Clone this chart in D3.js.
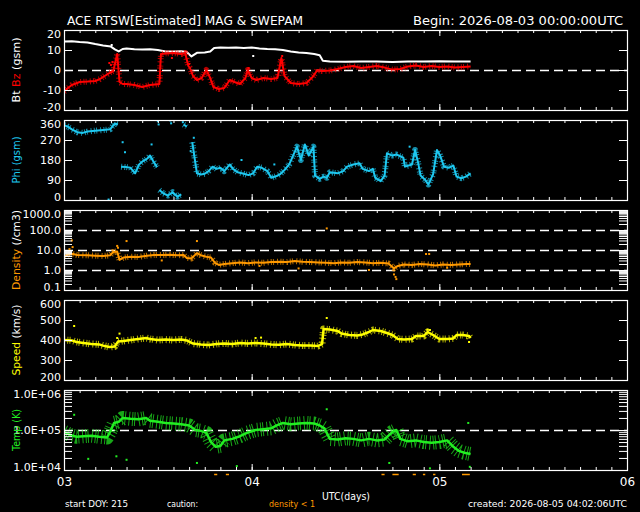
<!DOCTYPE html>
<html>
<head>
<meta charset="utf-8">
<script src="https://cdn.jsdelivr.net/npm/d3@7"></script>
<style>
  body { margin: 0; background: #000; }
  svg text { font-family: "DejaVu Sans", sans-serif; }
</style>
</head>
<body>
<svg id="chart" width="640" height="512"></svg>
<script>

// Values, [hour since 2026-08-03 00:00 UTC, value]
var dayLabels = ["03", "04", "05", "06"];

var btData = [[0,14.2],[1,14.4],[2,14],[3,13.8],[4,13],[5,12.3],[6,11.7],[6.5,10.3],[7,9.3],[7.5,10.5],
  [8,10.8],[9,10.4],[10,10.3],[11,10.4],[12,10],[13,9.3],[14,9.2],[15,9.4],[15.7,9],[16.3,6.8],[17,8.6],
  [18,8.8],[18.7,9.2],[19.2,11],[20,11.3],[21,11.1],[22,11.2],[23,11],[24,11.3],[25,10.7],[26,10.5],
  [27,10.4],[28,10],[29,9.3],[30,8.8],[31,8.5],[32,8],[32.7,7.4],[33.1,4.6],[34,4.3],[36,4.1],[38,4.3],
  [40,4.2],[42,4.0],[44,4.3],[46,4.2],[48,4.4],[50,4.2],[52,4.3]];
var btStray = [[24.2,7],[6.1,12.5]];

var bzData = [[0,-10.8],[0.5,-9],[1,-7.5],[2,-6],[3,-5.8],[4,-5.5],[4.6,-4.5],[5.2,-3],[5.8,-1.5],[6.3,-0.5],
  [6.8,8],[7.1,-6],[7.5,-7],[8,-7],[9,-7.5],[10,-8.5],[11,-7.5],[12.2,-7],[12.4,8],[13,8.3],[14,8.5],
  [15,8],[15.5,8.5],[15.9,2],[16.1,1],[16.5,-3],[17,-5],[17.6,-4],[18.2,0],[18.7,-4],[19.1,-8.5],
  [19.8,-9.5],[20.5,-9],[21.2,-5],[21.8,-6],[22.5,-7],[23.2,-4],[23.5,0],[24,-4],[24.6,-5],[25.5,-4],
  [26.5,-4.5],[27.3,-4],[27.8,6],[28.2,-3],[29,-6.5],[30,-7],[31,-6.5],[31.8,-3.5],[32.4,0],[33,-0.5],
  [34,-0.3],[35,0.5],[36,1.5],[37,2],[38,1],[39,1.5],[40,2],[41,1.2],[42,0.2],[43,0.5],[44,1.8],[45,2.2],
  [46,1.5],[47,2],[48,1.5],[49,1.8],[50,1.2],[51,1.5],[52,1.8]];
var bzStray = [[5.8,3.5],[6.0,2.5],[6.2,4],[13.8,6],[16.0,3],[23.6,1],[27.9,7],[12.3,-4]];

var phiData = [[0,337],[0.5,330],[1,318],[1.7,305],[2.4,302],[3,308],[4,312],[5,315],[5.9,318],[6.5,345],
  [6.9,340],[7.2,null],[7.3,150],[8,148],[8.5,145],[9.1,120],[9.6,160],[10.1,175],[10.6,185],[11,200],
  [11.4,175],[11.9,148],[12,null],[12.2,45],[12.7,30],[13.3,20],[13.9,35],[14.5,15],[15,25],[15.1,null],
  [15.3,340],[15.7,330],[16,null],[16.4,260],[16.7,190],[17,120],[17.5,115],[18,118],[18.5,130],[19,150],
  [19.5,140],[20,145],[20.5,130],[21.2,160],[21.6,140],[22.2,125],[23,118],[23.6,112],[24.2,120],
  [24.7,150],[25.3,145],[26,130],[26.5,100],[27.2,108],[27.6,115],[28.2,135],[28.8,160],[29.3,200],
  [29.8,240],[30.3,180],[30.8,250],[31.3,200],[31.9,240],[32.1,110],[32.7,95],[33.2,105],[33.6,100],
  [34,125],[35,120],[35.7,130],[36.2,150],[37,160],[37.8,165],[38.2,140],[39,130],[39.5,140],[39.8,100],
  [40.5,85],[41,110],[41.3,210],[42,200],[42.5,205],[43.4,190],[43.6,150],[44.5,160],[44.9,225],
  [45.3,165],[45.6,110],[46.2,90],[46.6,70],[47.2,115],[47.7,225],[48.1,200],[48.6,150],[49.2,145],
  [49.8,155],[50.2,105],[50.8,98],[51.4,105],[52,120]];
var phiStray = [[5.7,2],[7.5,260],[7.8,215],[11.2,250],[12,355],[12.1,340],[13.6,358],[13.7,345],
  [15.2,350],[16.2,220],[16.6,280],[22.7,180],[26.9,160],[44.2,240],[45.0,200]];

var densityData = [[0,4.6],[0.5,6],[1,6.5],[1.7,5.6],[3,5.4],[4,5.2],[5,5.0],[5.9,5.4],[6.3,8],[6.8,8.5],
  [7.1,3.2],[7.6,4.2],[8.5,4.6],[9.5,4.5],[10.6,5.2],[11.5,5.6],[12.5,5.6],[13.5,5.8],[14.5,5.5],
  [15.3,5.6],[15.7,4.0],[16.3,3.8],[17,7],[17.5,5.5],[18.2,4.6],[18.8,4.2],[19.3,2.3],[19.8,1.8],
  [20.5,2.0],[21.5,2.2],[22.5,2.4],[23.5,2.2],[24.5,2.4],[25.5,2.3],[26.5,2.5],[27.5,2.6],[28.5,2.5],
  [29.5,2.8],[30.5,2.6],[31.5,2.5],[32.5,2.4],[33.5,2.3],[34.5,2.2],[35.5,2.4],[36.5,2.3],[37.5,2.5],
  [38.5,2.4],[39.5,2.2],[40.5,2.3],[41.5,2.1],[42.2,1.2],[42.7,1.6],[43.5,1.9],[44.5,1.8],[45.5,2.0],
  [46.5,1.9],[47.5,1.7],[48.5,1.9],[49.5,1.8],[50.5,1.9],[51.5,2.0],[52,2.0]];
var densityStray = [[1.0,30],[1.1,14],[0.7,11],[6.8,16],[6.9,13],[8.0,28],[17.0,28],[33.6,120],
  [42.2,0.6],[42.4,0.45],[42.5,0.35],[46.3,6.3],[46.7,6.3],[12.5,3],[25,1.6],[30,1.2],[39,1.0],[49,1.3]];

var speedData = [[0,400],[1,398],[1.6,390],[2.5,385],[3.5,380],[4.5,378],[5,372],[5.8,365],[6.5,368],
  [6.9,392],[7.6,395],[8.5,400],[9.5,405],[10.5,410],[11,405],[12,400],[13,402],[14,400],[15,403],
  [15.7,398],[16.5,382],[17.5,378],[18.5,375],[19.5,380],[20.5,383],[21.5,380],[22.5,385],[23.5,383],
  [24.5,385],[25.5,382],[26.5,378],[27.5,376],[28.5,380],[29.5,375],[30.5,372],[31.5,372],[32.5,370],
  [33,380],[33.2,455],[34,452],[35,445],[35.5,432],[36.5,425],[37.5,423],[38.2,428],[39,440],[39.5,450],
  [40.5,445],[41.3,435],[42,425],[42.7,405],[43.5,403],[44.5,405],[45,420],[46,420],[46.5,440],
  [47.2,425],[48,405],[49,405],[49.8,408],[50.2,425],[51,425],[51.8,420],[52,410]];
var speedStray = [[1.3,470],[7.1,432],[6.8,410],[24.5,410],[25.2,412],[33.6,510],[46.5,452],
  [46.8,450],[51.8,390]];

var tempData = [[0,9.0e4],[0.8,7.5e4],[1.6,6.8e4],[2.5,7.0e4],[3.5,7.2e4],[4.5,6.8e4],[5.5,6.5e4],
  [5.9,9.0e4],[6.4,1.5e5],[7,1.6e5],[7.5,2.0e5],[8.5,1.9e5],[9.5,1.85e5],[10.5,2.0e5],[11,1.7e5],
  [12,1.6e5],[13,1.5e5],[14,1.45e5],[15,1.4e5],[16,1.3e5],[16.8,1.0e5],[17.5,9.5e4],[18.2,8.5e4],
  [18.8,5.0e4],[19.4,3.8e4],[20,4.0e4],[20.5,5.5e4],[21.5,6.0e4],[22.5,7.0e4],[23.4,8.5e4],[24.5,1.0e5],
  [25.5,1.05e5],[26.5,1.1e5],[27.2,1.3e5],[28,1.5e5],[29,1.4e5],[30,1.45e5],[31,1.5e5],[32,1.45e5],
  [32.7,1.3e5],[33.3,1.1e5],[34,6.0e4],[35,5.8e4],[36,6.2e4],[37,6.0e4],[38,5.5e4],[39,6.0e4],
  [40,5.5e4],[41,5.8e4],[42,9.0e4],[42.5,1.0e5],[43,6.0e4],[44,5.2e4],[45,5.5e4],[46,5.0e4],[47,4.8e4],
  [48,5.0e4],[49,5.5e4],[49.8,3.8e4],[50.5,3.0e4],[51.2,2.7e4],[52,2.5e4]];
var tempStray = [[3.1,1.9e4],[6.7,2.2e4],[8.0,1.8e4],[17,1.5e4],[1.3,2.4e5],[22.1,1.25e4],
  [33.6,3.3e5],[51.7,1.5e5],[46.8,1.1e4],[41.6,1.5e4],[51.9,1.2e4]];

// hours when density dropped below 1 (caution marks under the last panel)
var lowDensityHours = [[19.2,19.6],[20.7,21.1],[40.6,41.0],[42.0,42.8],[44.6,45.0],[45.9,46.2],
  [47.2,47.5],[50.9,51.9]];

var bTicks = [-20, -10, 0, 10, 20];
var phiTicks = [0, 90, 180, 270, 360];
var densityTicks = [0.1, 1, 10, 100, 1000];
var densityTickLabels = ["0.1", "1.0", "10.0", "100.0", "1000.0"];
var speedTicks = [200, 300, 400, 500, 600];
var tempTicks = [1e4, 1e5, 1e6];
var tempTickLabels = ["1.0E+04", "1.0E+05", "1.0E+06"];

// ---------------------------------------------------------------------

var svg = d3.select("#chart");
svg.append("rect").attr("width", 640).attr("height", 512).attr("fill", "#000");

var x = d3.scaleLinear().domain([0, 72]).range([64, 627]);
var panelH = 80;

function logMinor(lo, hi) {
    var vals = [];
    for (var k = lo; k < hi; k++) {
        for (var m = 1; m < 10; m++) vals.push(m * Math.pow(10, k));
    }
    vals.push(Math.pow(10, hi));
    return vals;
}

var panels = [
    { top: 30, y: d3.scaleLinear().domain([-20, 20]), ticks: bTicks, minor: null,
      fmt: function(d) { return d; }, dashed: [0],
      title: [["Bt ", "#fff"], ["Bz", "#ff0000"], [" (gsm)", "#fff"]], titleLen: 65,
      series: [
        { data: btData, stray: btStray, color: "#ffffff", core: 2, halo: 0 },
        { data: bzData, stray: bzStray, color: "#ff0000", core: 2, halo: 6 }
      ] },
    { top: 120, y: d3.scaleLinear().domain([0, 360]), ticks: phiTicks, minor: null,
      fmt: function(d) { return d; }, dashed: [],
      title: [["Phi (gsm)", "#1ec8f0"]], titleLen: 47,
      series: [{ data: phiData, stray: phiStray, color: "#1ec8f0", core: 2, halo: 6 }] },
    { top: 210, y: d3.scaleLog().domain([0.1, 1000]), ticks: densityTicks, minor: logMinor(-1, 3),
      fmt: function(d, i) { return densityTickLabels[i]; }, dashed: [1, 10, 100],
      title: [["Density ", "#ff9900"], ["(/cm3)", "#fff"]], titleLen: 80,
      series: [{ data: densityData, stray: densityStray, color: "#ff9900", core: 2, halo: 6 }] },
    { top: 300, y: d3.scaleLinear().domain([200, 600]), ticks: speedTicks, minor: null,
      fmt: function(d) { return d; }, dashed: [],
      title: [["Speed ", "#ffff00"], ["(km/s)", "#fff"]], titleLen: 71,
      series: [{ data: speedData, stray: speedStray, color: "#ffff00", core: 2.5, halo: 7 }] },
    { top: 390, y: d3.scaleLog().domain([1e4, 1e6]), ticks: tempTicks, minor: logMinor(4, 6),
      fmt: function(d, i) { return tempTickLabels[i]; }, dashed: [1e5],
      title: [["Temp (K)", "#22ee22"]], titleLen: 42,
      series: [{ data: tempData, stray: tempStray, color: "#22ee22", core: 2.5, halo: 14 }] }
];

var line = d3.line()
    .defined(function(d) { return d[1] != null; });

panels.forEach(function(p, idx) {
    var y = p.y.range([p.top + panelH, p.top]);
    var dom = y.domain();
    var g = svg.append("g");

    var clipId = "clip" + idx;
    svg.append("clipPath").attr("id", clipId)
        .append("rect").attr("x", 64).attr("y", p.top).attr("width", 563).attr("height", panelH);

    // dashed reference lines
    p.dashed.forEach(function(v) {
        g.append("line")
            .attr("x1", 64).attr("x2", 627)
            .attr("y1", Math.round(y(v)) + 0.5).attr("y2", Math.round(y(v)) + 0.5)
            .attr("stroke", "#fff").attr("stroke-width", 1.3)
            .attr("stroke-dasharray", "9,5");
    });

    // data: stippled band (scattered 1-min samples) plus a solid trace
    var dg = g.append("g").attr("clip-path", "url(#" + clipId + ")");
    line.x(function(d) { return x(d[0]); }).y(function(d) { return y(d[1]); });
    p.series.forEach(function(s) {
        if (s.halo > 0) {
            dg.append("path").attr("d", line(s.data))
                .attr("fill", "none").attr("stroke", s.color)
                .attr("stroke-width", s.halo).attr("stroke-opacity", 0.7)
                .attr("stroke-dasharray", "1,2.3,1,1.2,1,3.1")
                .attr("stroke-linejoin", "round");
        }
        dg.append("path").attr("d", line(s.data))
            .attr("fill", "none").attr("stroke", s.color)
            .attr("stroke-width", s.core).attr("stroke-linejoin", "round");
        dg.selectAll(null).data(s.stray).enter().append("rect")
            .attr("x", function(d) { return x(d[0]) - 1; })
            .attr("y", function(d) { return y(d[1]) - 1; })
            .attr("width", 2).attr("height", 2)
            .attr("fill", s.color);
    });

    // y axes, ticks pointing inwards on both sides
    var left = g.append("g").attr("transform", "translate(64,0)")
        .call(d3.axisLeft(y).tickValues(p.ticks).tickSize(-8).tickPadding(3).tickFormat(p.fmt));
    var right = g.append("g").attr("transform", "translate(627,0)")
        .call(d3.axisRight(y).tickValues(p.minor || p.ticks).tickSize(-8).tickFormat(""));
    if (p.minor) {
        left.call(function(sel) {
            sel.append("g").call(d3.axisLeft(y).tickValues(p.minor).tickSize(-8).tickFormat(""));
        });
    }
    [left, right].forEach(function(a) {
        a.attr("color", "#fff");
        a.selectAll(".domain").remove();
    });
    left.selectAll(".tick text")
        .attr("font-size", 11).attr("font-family", "DejaVu Sans").attr("fill", "#fff")
        .attr("y", function(d) { return d === dom[1] ? 3.5 : (d === dom[0] ? -3 : 0); });

    // hour ticks on top and bottom edges
    var hourTicks = d3.range(0, 73, 2);
    var dayTicks = [0, 24, 48, 72];
    [[d3.axisBottom, p.top], [d3.axisTop, p.top + panelH]].forEach(function(a) {
        g.append("g").attr("transform", "translate(0," + a[1] + ")").attr("color", "#fff")
            .call(a[0](x).tickValues(hourTicks).tickSize(3).tickFormat(""))
            .call(function(sel) { sel.select(".domain").remove(); });
        g.append("g").attr("transform", "translate(0," + a[1] + ")").attr("color", "#fff")
            .call(a[0](x).tickValues(dayTicks).tickSize(6).tickFormat(""))
            .call(function(sel) { sel.select(".domain").remove(); });
    });

    // frame
    g.append("rect")
        .attr("x", 64.5).attr("y", p.top + 0.5).attr("width", 563).attr("height", panelH)
        .attr("fill", "none").attr("stroke", "#fff").attr("stroke-width", 1.2);

    // rotated axis title
    var t = svg.append("text")
        .attr("transform", "translate(20," + (p.top + panelH / 2) + ") rotate(-90)")
        .attr("text-anchor", "middle").attr("font-size", 11)
        .attr("textLength", p.titleLen).attr("lengthAdjust", "spacingAndGlyphs");
    p.title.forEach(function(part) {
        t.append("tspan").attr("fill", part[1]).attr("xml:space", "preserve").text(part[0]);
    });
});

// day labels under the last panel
var xa = svg.append("g").attr("transform", "translate(0,470)")
    .call(d3.axisBottom(x).tickValues([0, 24, 48, 72]).tickSize(0).tickPadding(7)
        .tickFormat(function(d, i) { return dayLabels[i]; }));
xa.select(".domain").remove();
xa.selectAll("text").attr("fill", "#fff").attr("font-size", 12).attr("font-family", "DejaVu Sans");

// density < 1 caution marks
svg.append("g").selectAll("line").data(lowDensityHours).enter().append("line")
    .attr("x1", function(d) { return x(d[0]); })
    .attr("x2", function(d) { return x(d[1]); })
    .attr("y1", 474.5).attr("y2", 474.5)
    .attr("stroke", "#ff9900").attr("stroke-width", 1.5);

// header and footer text
function label(txt, xp, yp, size, color, len, anchor) {
    svg.append("text").attr("x", xp).attr("y", yp)
        .attr("font-size", size).attr("fill", color)
        .attr("text-anchor", anchor || "start")
        .attr("textLength", len).attr("lengthAdjust", "spacingAndGlyphs")
        .text(txt);
}
label("ACE RTSW[Estimated] MAG & SWEPAM", 67, 25, 13, "#fff", 236);
label("Begin: 2026-08-03 00:00:00UTC", 413, 25, 13, "#fff", 210);
label("UTC(days)", 322, 500, 11, "#fff", 48);
label("start DOY: 215", 65, 507, 9, "#fff", 63);
label("caution:", 167, 507, 9, "#fff", 31);
label("density < 1", 269, 507, 9, "#ff9900", 46);
label("created: 2026-08-05 04:02:06UTC", 468, 507, 9, "#fff", 159);

</script>
</body>
</html>
